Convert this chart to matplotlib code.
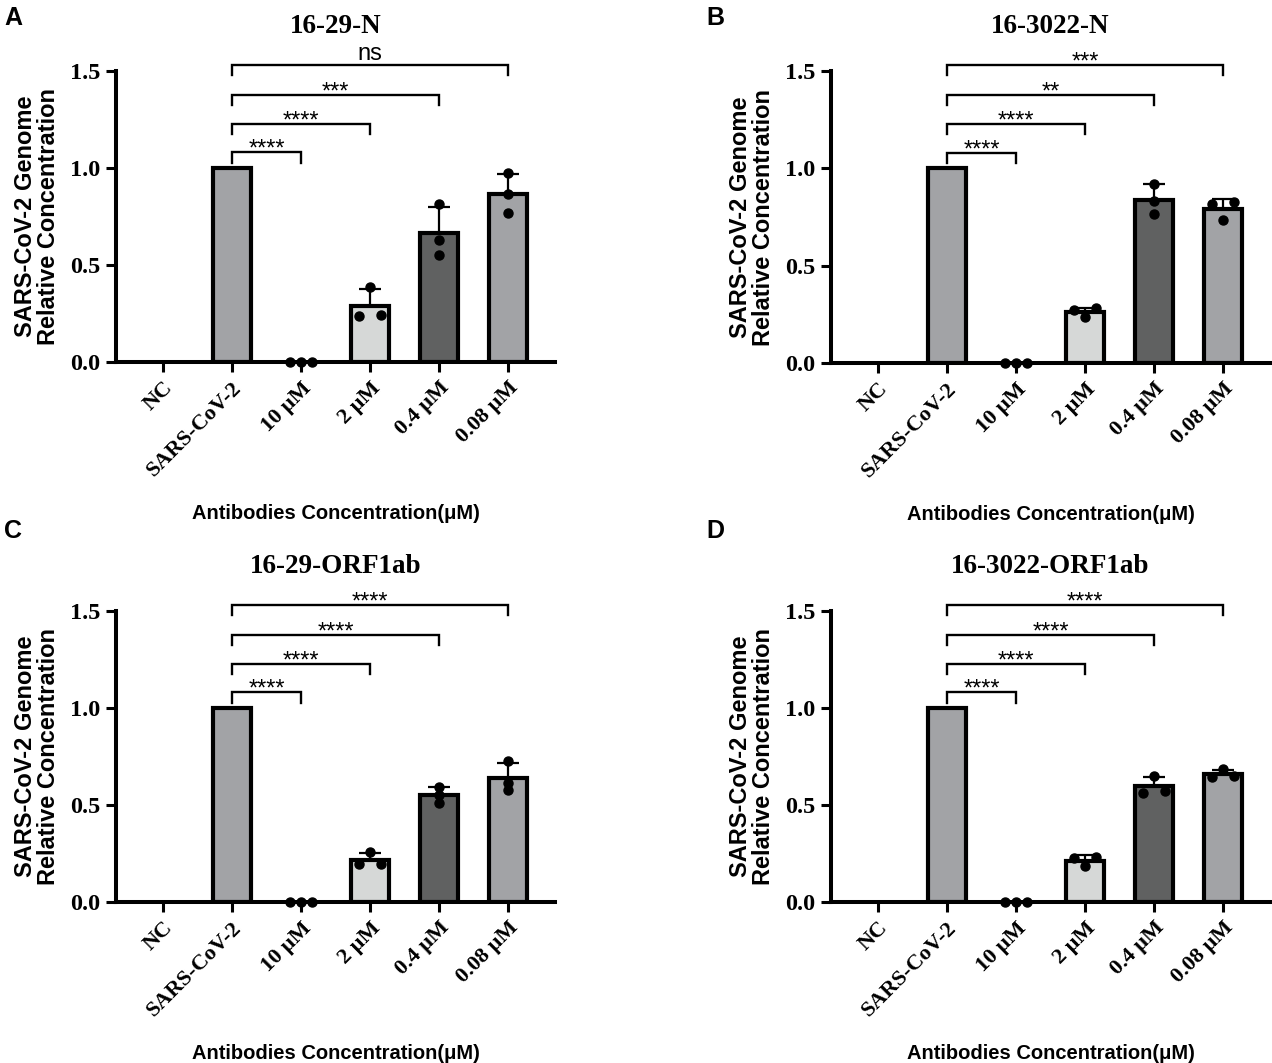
import numpy as np
import matplotlib.pyplot as plt

# x categories shared by all four panels
categories = ['NC', 'SARS-CoV-2', '10 μM', '2 μM', '0.4 μM', '0.08 μM']
bar_colors = ['#ffffff', '#a2a3a6', '#ffffff', '#d6d8d7', '#606161', '#a2a3a6']

panel_letters = ['A', 'B', 'C', 'D']
panel_titles = ['16-29-N', '16-3022-N', '16-29-ORF1ab', '16-3022-ORF1ab']

# bar heights (mean) and upper error (SD)
means_a = [0, 1.0, 0, 0.29, 0.665, 0.865]
sd_a = [0, 0, 0, 0.085, 0.135, 0.105]
reps_a = [[], [], [0, 0, 0], [0.387, 0.237, 0.242], [0.814, 0.629, 0.55], [0.974, 0.866, 0.768]]
stars_a = ['****', '****', '***', 'ns']

means_b = [0, 1.0, 0, 0.26, 0.838, 0.79]
sd_b = [0, 0, 0, 0.022, 0.08, 0.05]
reps_b = [[], [], [0, 0, 0], [0.28, 0.27, 0.235], [0.918, 0.83, 0.764], [0.826, 0.815, 0.733]]
stars_b = ['****', '****', '**', '***']

means_c = [0, 1.0, 0, 0.215, 0.55, 0.637]
sd_c = [0, 0, 0, 0.04, 0.043, 0.08]
reps_c = [[], [], [0, 0, 0], [0.257, 0.195, 0.195], [0.593, 0.55, 0.51], [0.727, 0.613, 0.577]]
stars_c = ['****', '****', '****', '****']

means_d = [0, 1.0, 0, 0.213, 0.596, 0.66]
sd_d = [0, 0, 0, 0.03, 0.048, 0.022]
reps_d = [[], [], [0, 0, 0], [0.232, 0.227, 0.186], [0.65, 0.562, 0.572], [0.685, 0.644, 0.65]]
stars_d = ['****', '****', '****', '****']

bracket_levels = [1.08, 1.227, 1.376, 1.53]

SERIF = 'Liberation Serif'
SANS = 'Liberation Sans'

fig = plt.figure(figsize=(12.72, 10.63), dpi=100)

# axes rectangles in pixels: left, top, right, bottom
boxes = [(116, 71, 555, 362), (831, 71, 1270, 363),
         (116, 611, 555, 902), (831, 611, 1270, 902)]
letter_pos = [(4, 25), (706, 25), (4, 538), (706, 538)]
W, H = 1272, 1063


def spread(values, thresh=0.03, step=0.16):
    """x offsets for overlapping replicate dots"""
    vals = np.asarray(values, dtype=float)
    order = np.argsort(vals)
    offs = np.zeros(len(vals))
    groups, cur = [], [order[0]] if len(order) else []
    for i in order[1:]:
        if vals[i] - vals[cur[-1]] < thresh:
            cur.append(i)
        else:
            groups.append(cur)
            cur = [i]
    if cur:
        groups.append(cur)
    for g in groups:
        n = len(g)
        if n == 2:
            offs[g[0]], offs[g[1]] = -step, step
        elif n >= 3:
            for k, i in enumerate(g):
                offs[i] = (k - (n - 1) / 2) * step
    return offs


def draw_panel(ax, title, means, sds, reps, stars):
    x = np.arange(len(categories))
    for i in x:
        if means[i] > 0:
            ax.bar(i, means[i], width=0.56, color=bar_colors[i], edgecolor='black',
                   linewidth=3.0, zorder=2)
        if sds[i] > 0:
            ax.errorbar(i, means[i], yerr=[[0], [sds[i]]], fmt='none', ecolor='black',
                        elinewidth=1.6, capsize=8, capthick=1.6, zorder=1)
        if len(reps[i]):
            offs = spread(reps[i])
            ax.plot(i + offs, reps[i], 'o', color='black', markersize=6.5,
                    zorder=4, clip_on=False)

    # significance brackets, all against SARS-CoV-2
    for k, (lvl, s) in enumerate(zip(bracket_levels, stars)):
        x1, x2 = 1, k + 2
        ax.plot([x1, x1, x2, x2], [lvl - 0.052, lvl, lvl, lvl - 0.052], color='black',
                linewidth=1.7, clip_on=False, solid_joinstyle='miter')
        if s == 'ns':
            ax.text((x1 + x2) / 2, lvl + 0.028, s, ha='center', va='baseline',
                    family=SANS, fontsize=17)
        else:
            ax.text((x1 + x2) / 2, lvl - 0.017, s, ha='center', va='baseline',
                    family=SANS, fontsize=17)

    ax.set_xlim(-0.68, 5.68)
    ax.set_ylim(0, 1.5)
    ax.set_yticks([0, 0.5, 1.0, 1.5])
    ax.set_yticklabels(['0.0', '0.5', '1.0', '1.5'], family=SERIF, fontweight='bold', fontsize=17.5)
    ax.set_xticks(x)
    ax.set_xticklabels(categories, family=SERIF, fontweight='bold', fontsize=16,
                       rotation=45, ha='right', rotation_mode='anchor')
    for side in ['top', 'right']:
        ax.spines[side].set_visible(False)
    for side in ['left', 'bottom']:
        ax.spines[side].set_linewidth(2.9)
    ax.tick_params(axis='x', length=7.5, width=2.2, pad=4)
    ax.tick_params(axis='y', length=7, width=2.2, pad=4)

    ax.set_ylabel('SARS-CoV-2 Genome\nRelative Concentration', family=SANS,
                  fontweight='bold', fontsize=17, linespacing=1.05, va='center')
    ax.yaxis.set_label_coords(-0.18, 0.5)
    ax.set_xlabel('Antibodies Concentration(μM)', family=SANS, fontweight='bold', fontsize=14.5)
    ax.xaxis.set_label_coords(0.5, -0.519)
    ax.xaxis.label.set_va('center')

    ax.text(0.5, 1.1306, title, transform=ax.transAxes, ha='center', va='baseline',
            family=SERIF, fontweight='bold', fontsize=19.5)


panel_data = [(means_a, sd_a, reps_a, stars_a), (means_b, sd_b, reps_b, stars_b),
              (means_c, sd_c, reps_c, stars_c), (means_d, sd_d, reps_d, stars_d)]

for box, title, data, letter, lp in zip(boxes, panel_titles, panel_data, panel_letters, letter_pos):
    l, t, r, b = box
    ax = fig.add_axes([l / W, 1 - b / H, (r - l) / W, (b - t) / H])
    draw_panel(ax, title, *data)
    fig.text(lp[0] / W, 1 - lp[1] / H, letter, ha='left', va='baseline',
             family=SANS, fontweight='bold', fontsize=18)

fig.savefig('out.png', dpi=100)
